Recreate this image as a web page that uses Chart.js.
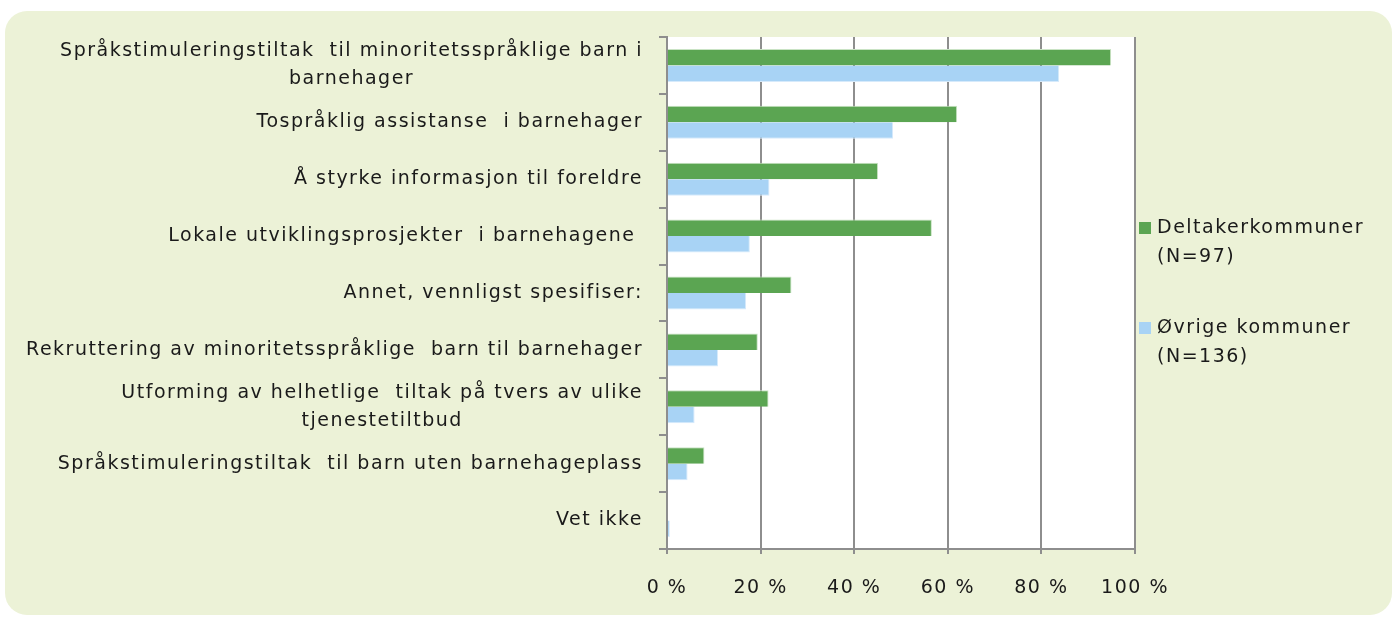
<!DOCTYPE html>
<html>
<head>
<meta charset="utf-8">
<script src="https://cdn.jsdelivr.net/npm/chart.js@4.4.1/dist/chart.umd.min.js"></script>
<style>
  html, body { margin: 0; padding: 0; background: #ffffff; }
  #panel {
    position: absolute; left: 5px; top: 11px; width: 1387px; height: 604px;
    background: #ecf2d7; border-radius: 22px;
  }
  #wrap { position: absolute; left: 0; top: 0; width: 1397px; height: 619px; }
</style>
</head>
<body>
<div id="panel"></div>
<div id="wrap"><canvas id="chart"></canvas></div>
<script>
const categories = [
  ["Språkstimuleringstiltak  til minoritetsspråklige barn i", "barnehager"],
  ["Tospråklig assistanse  i barnehager"],
  ["Å styrke informasjon til foreldre"],
  ["Lokale utviklingsprosjekter  i barnehagene "],
  ["Annet, vennligst spesifiser:"],
  ["Rekruttering av minoritetsspråklige  barn til barnehager"],
  ["Utforming av helhetlige  tiltak på tvers av ulike", "tjenestetiltbud"],
  ["Språkstimuleringstiltak  til barn uten barnehageplass"],
  ["Vet ikke"]
];
const deltaker = [94.9, 62.0, 45.1, 56.6, 26.6, 19.4, 21.7, 8.0, 0];
const ovrige = [83.8, 48.3, 21.9, 17.7, 16.9, 10.9, 5.9, 4.4, 0.6];
const legendLabels = [["Deltakerkommuner", "(N=97)"], ["Øvrige kommuner", "(N=136)"]];
const xTicks = ["0 %", "20 %", "40 %", "60 %", "80 %", "100 %"];

const FONT = '19px "DejaVu Sans"';
const SPACING = '1.5px';
const TEXT = '#1a1a1a';
const GRID = '#8e8e8e';

const ctx = document.getElementById('chart');

const spacingPlugin = {
  id: 'spacing',
  beforeUpdate(chart) { chart.ctx.letterSpacing = SPACING; },
  beforeDraw(chart) {
    chart.ctx.letterSpacing = SPACING;
    const a = chart.chartArea;
    chart.ctx.save();
    chart.ctx.fillStyle = '#ffffff';
    chart.ctx.fillRect(a.left, a.top, a.right - a.left, a.bottom - a.top);
    chart.ctx.restore();
  }
};

const labelsPlugin = {
  id: 'ylabels',
  afterDraw(chart) {
    const c = chart.ctx;
    const y = chart.scales.y;
    const right = chart.chartArea.left - 24;
    c.save();
    c.letterSpacing = SPACING;
    c.font = FONT;
    c.fillStyle = TEXT;
    c.textAlign = 'center';
    c.textBaseline = 'middle';
    categories.forEach((lines, i) => {
      const w = Math.max(...lines.map(l => c.measureText(l).width));
      const cx = right - w / 2;
      const cy = y.getPixelForValue(i);
      lines.forEach((l, j) => {
        c.fillText(l, cx, cy + (j - (lines.length - 1) / 2) * 28);
      });
    });

    // legend
    const a = chart.chartArea;
    const mid = (a.top + a.bottom) / 2;
    const colors = ['#5ba552', '#a8d3f5'];
    c.textAlign = 'left';
    legendLabels.forEach((lines, i) => {
      const top = mid - 65 + i * 100;
      c.fillStyle = colors[i];
      c.fillRect(a.right + 4, top - 6, 12, 12);
      c.fillStyle = TEXT;
      lines.forEach((l, j) => c.fillText(l, a.right + 22, top + j * 29));
    });
    c.restore();
  }
};

new Chart(ctx, {
  type: 'bar',
  data: {
    labels: categories.map(l => l.join(' ')),
    datasets: [
      {
        label: 'Deltakerkommuner (N=97)',
        data: deltaker,
        backgroundColor: '#5ba552',
        borderColor: '#c9e3c4',
        borderWidth: { top: 1, right: 1, bottom: 0, left: 0 },
        borderSkipped: 'start',
        barPercentage: 1,
        categoryPercentage: 0.58
      },
      {
        label: 'Øvrige kommuner (N=136)',
        data: ovrige,
        backgroundColor: '#a8d3f5',
        borderColor: '#d6eafb',
        borderWidth: { top: 0, right: 1, bottom: 1, left: 0 },
        borderSkipped: 'start',
        barPercentage: 1,
        categoryPercentage: 0.58
      }
    ]
  },
  options: {
    indexAxis: 'y',
    responsive: true,
    maintainAspectRatio: false,
    animation: false,
    layout: { padding: { left: 0, top: 37, right: 262, bottom: 0 } },
    plugins: {
      legend: { display: false },
      tooltip: { enabled: false }
    },
    scales: {
      x: {
        min: 0,
        max: 100,
        ticks: {
          stepSize: 20,
          padding: 23,
          color: TEXT,
          font: { family: 'DejaVu Sans', size: 19 },
          callback: (v, i) => xTicks[i]
        },
        grid: { color: GRID, lineWidth: 2, tickLength: 5 },
        border: { color: GRID, width: 2 },
        afterFit: s => { s.height = 70; }
      },
      y: {
        ticks: { display: false },
        grid: { drawOnChartArea: false, color: GRID, lineWidth: 2, tickLength: 8, offset: true },
        border: { color: GRID, width: 2 },
        afterFit: s => { s.width = 667; }
      }
    }
  },
  plugins: [spacingPlugin, labelsPlugin]
});
</script>
</body>
</html>
